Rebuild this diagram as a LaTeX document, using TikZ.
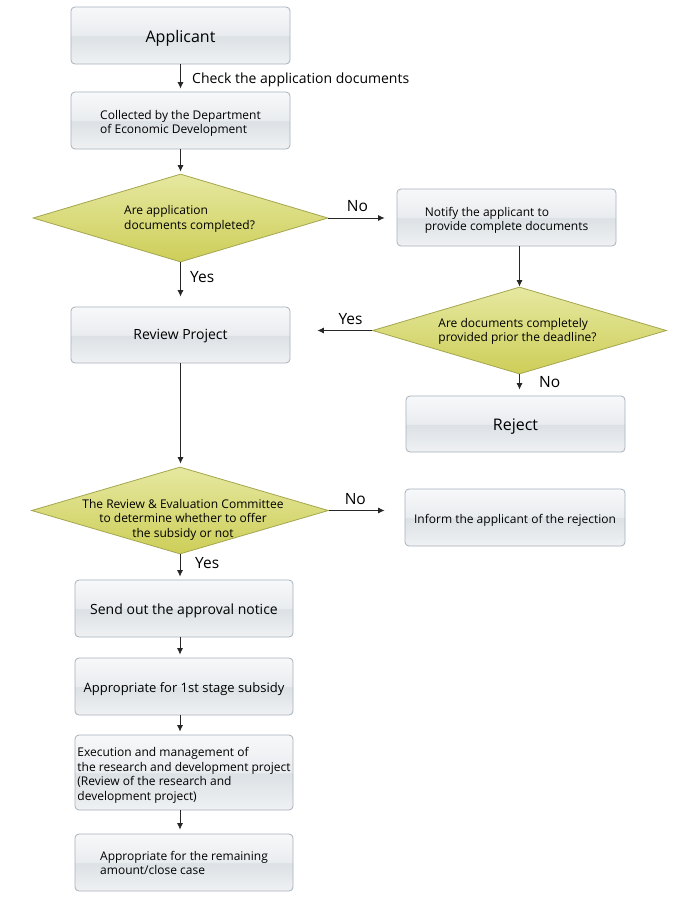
\documentclass[tikz,border=0pt]{standalone}
\usepackage{fontspec}
\setmainfont{Open Sans}
\usetikzlibrary{shapes.geometric,arrows.meta}
\definecolor{bxtop}{HTML}{F7F8FA}
\definecolor{bxmidt}{HTML}{E9ECEF}
\definecolor{bxmid}{HTML}{DCE1E5}
\definecolor{bxbot}{HTML}{EFF1F3}
\definecolor{bxline}{HTML}{A7B2BC}
\definecolor{diatop}{HTML}{E6E8A0}
\definecolor{diabot}{HTML}{CDCE58}
\definecolor{dialine}{HTML}{A4A64E}
\pgfdeclareverticalshading{boxsh}{100bp}{color(0bp)=(bxbot); color(25bp)=(bxbot); color(49.5bp)=(bxmid); color(50bp)=(bxmidt); color(75bp)=(bxtop); color(100bp)=(bxtop)}
\newcommand\tdn[1]{\raisebox{-3pt}[\height][\depth]{\begin{tabular}{@{}l@{}}#1\end{tabular}}}
\tikzset{
  box/.style={rectangle, rounded corners=4pt, draw=bxline, line width=0.8pt, shading=boxsh,
    inner sep=0pt, minimum width=219pt, minimum height=57pt,
    font=\fontsize{12}{14.5}\selectfont, text=black},
  dia/.style={diamond, draw=dialine, line width=0.8pt, top color=diatop, bottom color=diabot, inner sep=0pt},
  dtext/.style={font=\fontsize{12}{14.5}\selectfont, inner sep=0pt, text=black},
  lbl/.style={font=\fontsize{15.5}{18}\selectfont, inner sep=0pt, text=black},
  arr/.style={-{Latex[length=6.5pt,width=6pt]}, line width=0.8pt, draw=black!85},
}
\begin{document}
\begin{tikzpicture}[x=1pt,y=-1pt]
\useasboundingbox (0,0) rectangle (700,900);
\fill[white] (0,0) rectangle (700,900);

\node[box, font=\fontsize{16}{19}\selectfont] (app) at (180.5,35.5) {\tdn{Applicant}};
\node[box] (coll) at (180.5,120.5) {\tdn{Collected by the Department\\of Economic Development}};
\node[dia, minimum width=295pt, minimum height=88pt] (d1) at (180.5,218) {};
\node[dtext, align=left, anchor=west] (d1t) at (124,219) {Are application\\documents completed?};
\node[box] (notify) at (506.5,217.5) {\tdn{Notify the applicant to\\provide complete documents}};
\node[dia, minimum width=294pt, minimum height=87pt] (d2) at (519.5,330.5) {};
\node[dtext, align=left] (d2t) at (517.5,331.5) {Are documents completely\\provided prior the deadline?};
\node[box, font=\fontsize{16}{19}\selectfont, minimum height=56pt] (reject) at (515.5,424) {\tdn{Reject}};
\node[box, font=\fontsize{14}{17}\selectfont, minimum height=56pt] (review) at (180.5,335) {\raisebox{-1pt}[\height][\depth]{Review Project}};
\node[dia, minimum width=297pt, minimum height=87pt] (d3) at (180,510.5) {};
\node[dtext, align=center] (d3t) at (183,519.5) {The Review \& Evaluation Committee\\to determine whether to offer\\the subsidy or not};
\node[box, minimum width=220pt] (inform) at (515,517.5) {\tdn{Inform the applicant of the rejection}};
\node[box, font=\fontsize{14}{17}\selectfont, minimum width=218pt] (send) at (184,608.5) {\tdn{Send out the approval notice}};
\node[box, font=\fontsize{13}{16}\selectfont, minimum width=218pt] (app1) at (184,686.5) {\tdn{Appropriate for 1st stage subsidy}};
\node[box, minimum width=218pt, minimum height=75pt] (exec) at (184,772.5) {\tdn{Execution and management of\\the research and development project\\(Review of the research and\\development project)}};
\node[box, minimum width=218pt] (final) at (184,862.5) {\raisebox{-2pt}[\height][\depth]{\begin{tabular}{@{}l@{}}Appropriate for the remaining\\amount/close case\end{tabular}}};

\draw[arr, shorten >=3pt] (app) -- (coll);
\draw[arr, shorten >=2pt] (coll) -- (d1);
\draw[arr, shorten >=12pt] (d1.east) -- (d1.east -| notify.west);
\draw[arr] (d2.north |- notify.south) -- (d2.north);
\draw[arr, shorten >=27pt] (d2.west) -- (d2.west -| review.east);
\draw[arr, shorten >=6pt] (d2.south) -- (d2.south |- reject.north);
\draw[arr, shorten >=10pt] (d1.south) -- (review.north);
\draw[arr, shorten >=3pt] (review.south) -- (review.south |- d3.north);
\draw[arr, shorten >=20pt] (d3.east) -- (d3.east -| inform.west);
\draw[arr, shorten >=3pt] (d3.south) -- (d3.south |- send.north);
\draw[arr, shorten >=3pt] (send.south -| d3.south) -- (app1.north -| d3.south);
\draw[arr, shorten >=3pt] (app1.south -| d3.south) -- (exec.north -| d3.south);
\draw[arr, shorten >=4pt] (exec.south -| d3.south) -- (final.north -| d3.south);

\node[font=\fontsize{14}{17}\selectfont, anchor=base west, inner sep=0pt] (chk) at (192,83.3) {Check the application documents};
\node[lbl, anchor=base west] (no1) at (346.7,211.7) {No};
\node[lbl, anchor=base west] (yes1) at (190,282.7) {Yes};
\node[lbl, anchor=base west] (yes2) at (338.3,324.3) {Yes};
\node[lbl, anchor=base west] (no2) at (539,387.7) {No};
\node[lbl, anchor=base west] (no3) at (344.6,504.3) {No};
\node[lbl, anchor=base west] (yes3) at (195,568.3) {Yes};
\end{tikzpicture}
\end{document}
